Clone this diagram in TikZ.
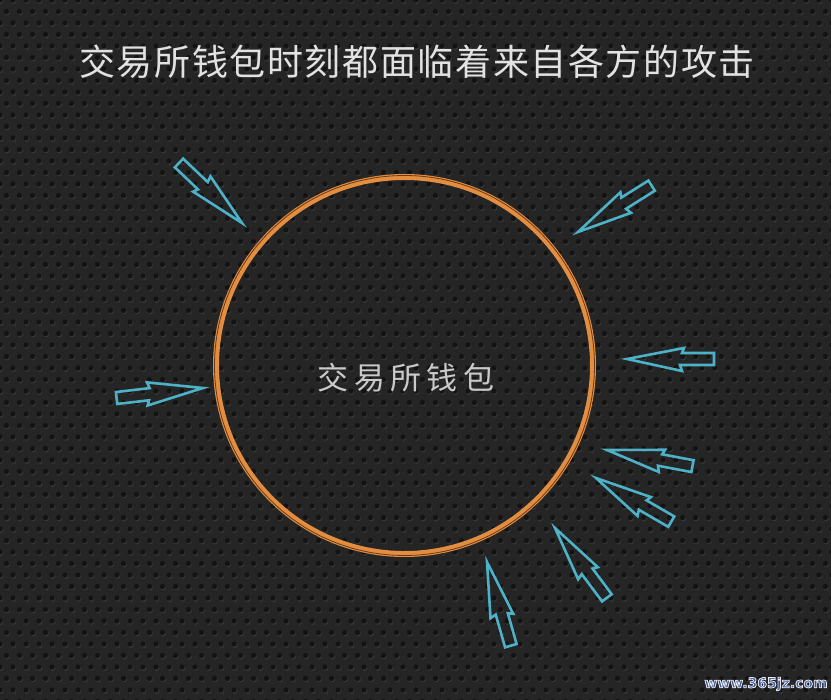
\documentclass[tikz,border=0pt]{standalone}
\usepackage{fontspec}
\newfontfamily\cjktitle{Noto Sans CJK SC}[LetterSpace=4.5]
\newfontfamily\cjkmid{Noto Sans CJK SC}[LetterSpace=17]
\newfontfamily\wmfont{DejaVu Sans}
\definecolor{bgbase}{HTML}{252525}
\definecolor{holecol}{HTML}{131313}
\definecolor{holehi}{HTML}{363636}
\definecolor{ringorange}{HTML}{E38D40}
\definecolor{ringdark}{HTML}{6A3A18}
\definecolor{arrowcyan}{HTML}{4DB2C8}
\definecolor{titlecol}{HTML}{E2E2E2}
\definecolor{midcol}{HTML}{CACACA}
\definecolor{wmblue}{HTML}{3A58A0}
\newcommand\outlinedtext[1]{\special{pdf:code q 0.92 0.92 0.95 RG 0.8 w 2 Tr}#1\special{pdf:code Q}}
\tikzset{
  dotrow/.style={line width=5.2pt, line cap=round, dash pattern=on 0pt off 13pt},
  arrowline/.style={draw=arrowcyan, line width=2.6pt, line join=miter},
  attack/.pic={
    \draw[arrowline] (0,0) -- (-55,12) -- (-53,6) -- (-87,6) -- (-87,-6)
      -- (-55,-6) -- (-57,-11) -- cycle;
  },
  wmtext/.style={font=\wmfont\bfseries\fontsize{14}{16}\selectfont, inner sep=0pt}
}
\begin{document}
\begin{tikzpicture}[x=1pt,y=1pt]
\fill[bgbase] (0,0) rectangle (831,-700);
\useasboundingbox (0,0) rectangle (831,-700);
% perforated texture
\begin{scope}
\clip (0,0) rectangle (831,-700);
\foreach \j in {0,...,61}{
  \pgfmathsetmacro{\sx}{-13+mod(\j,2)*6.5}
  \pgfmathsetmacro{\py}{-\j*11.5}
  \draw[dotrow, holehi] (\sx+0.8,\py-1.3) -- (860+0.8,\py-1.3);
  \draw[dotrow, holecol] (\sx,\py) -- (860,\py);
}
\end{scope}
% title
\node[text=titlecol, font=\cjktitle\fontsize{36}{40}\selectfont, inner sep=0pt] (title) at (417,-62) {交易所钱包时刻都面临着来自各方的攻击};
% ring
\node[circle, draw=ringorange, line width=6pt, minimum size=377pt, inner sep=0pt] (ring) at (404.5,-365.5) {};
\draw[ringdark, line width=0.8pt] (ring.center) circle (190);
% center text
\node[text=midcol, font=\cjkmid\fontsize{31}{36}\selectfont, inner sep=0pt] (wallet) at (406,-378) {交易所钱包};
% attack arrows (tip positions, directions)
\coordinate (t1) at (242,-223);
\coordinate (t2) at (578,-232);
\coordinate (t3) at (203,-388);
\coordinate (t4) at (627,-359);
\coordinate (t5) at (607,-450);
\coordinate (t6) at (596,-478);
\coordinate (t7) at (555,-528);
\coordinate (t8) at (487,-562);
\pic[rotate=-43.6] at (t1) {attack};
\pic[rotate=-147.8] at (t2) {attack};
\pic[rotate=6.6] at (t3) {attack};
\pic[rotate=180] at (t4) {attack};
\pic[rotate=169.3] at (t5) {attack};
\pic[rotate=149.9] at (t6) {attack};
\pic[rotate=126.6] at (t7) {attack};
\pic[rotate=105.9] at (t8) {attack};
% watermark
\node[wmtext, text=wmblue] (wm) at (766,-684) {\outlinedtext{www.365jz.com}};
\end{tikzpicture}
\end{document}
